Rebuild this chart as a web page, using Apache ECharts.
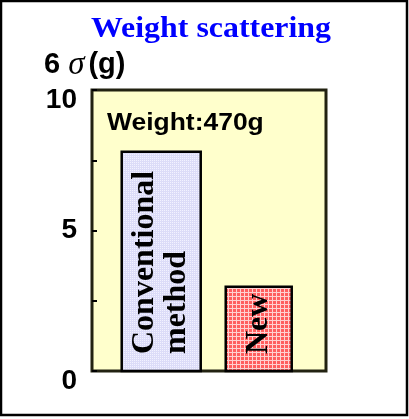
<!DOCTYPE html>
<html>
<head>
<meta charset="utf-8">
<script src="https://cdn.jsdelivr.net/npm/echarts@6/dist/echarts.min.js"></script>
<style>
html,body{margin:0;padding:0;background:#fff;}
#chart{width:409px;height:419px;}
</style>
</head>
<body>
<div id="chart"></div>
<script>
// ---- data ----
const categories = ['Conventional\nmethod', 'New'];
const values = [7.8, 3.0];
const yTickLabels = [0, 5, 10];
const titleText = 'Weight scattering';
const noteText = 'Weight:470g';

// ---- styles ----
const barWidthsPx = [79, 66];

function makePattern(size, base, hi, mode) {
  const c = document.createElement('canvas');
  c.width = size; c.height = size;
  const g = c.getContext('2d');
  g.fillStyle = base; g.fillRect(0, 0, size, size);
  g.fillStyle = hi;
  if (mode === 'dot') {
    g.fillRect(0, 0, 1, 1);
  } else {
    g.fillRect(0, 0, size, 1);
    g.fillRect(0, 0, 1, size);
  }
  return c;
}
const patterns = [
  { image: makePattern(2, '#dcdcf8', '#f2f2ff', 'dot'), repeat: 'repeat' },
  { image: makePattern(4, '#ff5e5e', '#ffd0d0', 'grid'), repeat: 'repeat' }
];

const chart = echarts.init(document.getElementById('chart'), null, { renderer: 'canvas' });

const labelFont = { fontFamily: 'Liberation Sans', fontWeight: 'bold', fontSize: 28, color: '#000' };

const option = {
  animation: false,
  backgroundColor: '#ffffff',
  grid: {
    left: 92, right: 83, top: 90, bottom: 48,
    show: true, backgroundColor: '#ffffcc', borderColor: '#222211', borderWidth: 3
  },
  xAxis: {
    type: 'value', min: 0.29, max: 2.69, show: false
  },
  yAxis: {
    type: 'value', min: 0, max: 10, interval: 2.5,
    axisLine: { show: false },
    splitLine: { show: false },
    axisTick: { show: true, inside: true, length: 5, lineStyle: { color: '#000', width: 2 } },
    axisLabel: Object.assign({
      margin: 15,
      formatter: function (v) {
        if (yTickLabels.indexOf(v) < 0) return '';
        return v === 5 ? '{m|' + v + '}' : '{d|' + v + '}';
      },
      rich: {
        m: Object.assign({}, labelFont),
        d: Object.assign({ padding: [20, 0, 0, 0] }, labelFont)
      }
    }, labelFont)
  },
  graphic: [
    {
      type: 'rect', z: 100, silent: true,
      shape: { x: 1, y: 1, width: 406, height: 414 },
      style: { fill: 'none', stroke: '#000', lineWidth: 2.5 }
    },
    {
      type: 'text', x: 211, y: 30, scaleX: 1.1, z: 100,
      style: { text: titleText, fontFamily: 'Liberation Serif', fontWeight: 'bold', fontSize: 29,
               fill: '#0000ff', align: 'center', verticalAlign: 'middle' }
    },
    {
      type: 'text', x: 44, y: 65, z: 100,
      style: {
        text: '{a|6 }{s|σ}{a|(g)}',
        rich: {
          a: { fontFamily: 'Liberation Sans', fontWeight: 'bold', fontSize: 29, fill: '#000' },
          s: { fontFamily: 'Liberation Serif', fontStyle: 'italic', fontSize: 33, fill: '#000', padding: [0, 4, 0, 0] }
        },
        align: 'left', verticalAlign: 'middle'
      }
    },
    {
      type: 'text', x: 107, y: 124, scaleX: 1.15, z: 100,
      style: { text: noteText, fontFamily: 'Liberation Sans', fontWeight: 'bold', fontSize: 23,
               fill: '#000', align: 'left', verticalAlign: 'middle' }
    }
  ],
  series: [{
    type: 'custom',
    data: values.map((v, i) => [i + 1, v]),
    renderItem: function (params, api) {
      const i = params.dataIndex;
      const p0 = api.coord([api.value(0), 0]);
      const p1 = api.coord([api.value(0), api.value(1)]);
      const w = barWidthsPx[i];
      return {
        type: 'group',
        children: [
          {
            type: 'rect',
            shape: { x: p0[0] - w / 2, y: p1[1], width: w, height: p0[1] - p1[1] },
            style: { fill: patterns[i], stroke: '#000', lineWidth: 2.5 }
          },
          {
            type: 'text',
            x: p0[0], y: p0[1] - 17, rotation: Math.PI / 2,
            style: {
              text: categories[i], fontFamily: 'Liberation Serif', fontWeight: 'bold', fontSize: 32,
              lineHeight: 32, fill: '#000', align: 'left', verticalAlign: 'middle'
            }
          }
        ]
      };
    }
  }]
};
chart.setOption(option);
</script>
</body>
</html>
